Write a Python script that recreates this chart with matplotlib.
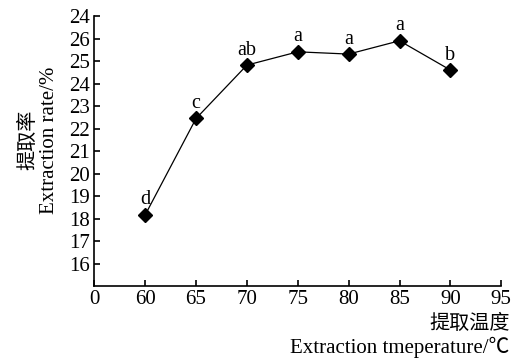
import matplotlib
matplotlib.use('Agg')
import matplotlib.pyplot as plt

# extraction temperature (C) vs extraction rate (%)
temperature = [60, 65, 70, 75, 80, 85, 90]
rate = [18.17, 22.45, 24.82, 25.41, 25.31, 25.90, 24.60]
groups = ['d', 'c', 'ab', 'a', 'a', 'a', 'b']

x_ticks = [55, 60, 65, 70, 75, 80, 85, 90, 95]
x_labels = ['0', '60', '65', '70', '75', '80', '85', '90', '95']
y_ticks = [16, 17, 18, 19, 20, 21, 22, 23, 24, 25, 26, 27]
y_labels = ['16', '17', '18', '19', '20', '21', '22', '23', '24', '25', '26', '24']

serif = ['Liberation Serif', 'Noto Sans CJK SC']
cjk = ['Noto Sans CJK SC', 'Liberation Serif']

fig = plt.figure(figsize=(5.17, 3.59), dpi=100)
ax = fig.add_axes([0.1824, 0.2025, 0.7872, 0.7529])

ax.plot(temperature, rate, color='black', lw=0.9, marker='D', ms=7.5,
        markerfacecolor='black', markeredgecolor='black')
for t, r, g in zip(temperature, rate, groups):
    ax.annotate(g, (t, r), xytext=(0, 4), textcoords='offset points',
                ha='center', va='bottom', fontsize=14.5, family=serif)

ax.set_xlim(55, 95)
ax.set_ylim(15, 27)
ax.set_xticks(x_ticks)
ax.set_xticklabels(x_labels, family=serif, fontsize=15)
ax.set_yticks(y_ticks)
ax.set_yticklabels(y_labels, family=serif, fontsize=15)
ax.tick_params(direction='in', length=4.5, width=1.2, pad=3)
for side in ['top', 'right']:
    ax.spines[side].set_visible(False)
for side in ['left', 'bottom']:
    ax.spines[side].set_linewidth(1.2)

# axis titles: Chinese line + English line
fig.text(0.053, 0.61, '提取率', rotation=90, ha='center', va='center',
         fontsize=14.5, family=cjk)
fig.text(0.095, 0.61, 'Extraction rate/%', rotation=90, ha='center', va='center',
         fontsize=15, family=serif)
fig.text(0.986, 0.100, '提取温度', ha='right', va='center',
         fontsize=14.5, family=cjk)
fig.text(0.986, 0.033, 'Extraction tmeperature/℃', ha='right', va='center',
         fontsize=15, family=serif)

fig.savefig('out.png', dpi=100)
